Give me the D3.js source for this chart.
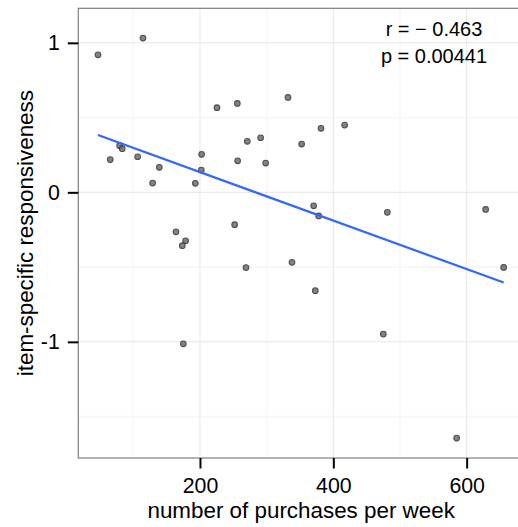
<!DOCTYPE html>
<html>
<head>
<meta charset="utf-8">
<script src="https://cdn.jsdelivr.net/npm/d3@7"></script>
<style>
  html, body { margin: 0; padding: 0; background: #fff; }
  svg { display: block; font-family: "Liberation Sans", Arial, Helvetica, sans-serif; }
</style>
</head>
<body>
<svg id="chart" width="518" height="527"></svg>
<script>
// Weekly purchase volume per item and its item-specific responsiveness
const purchases = [47.0, 114.5, 225.5, 79.5, 83.4, 65.4, 106.5, 139.0, 129.0, 202.5,
  202.0, 193.0, 256.0, 332.0, 271.0, 291.0, 256.5, 298.5, 352.5, 381.5,
  417.0, 370.5, 378.0, 164.0, 178.5, 173.5, 252.0, 269.0, 338.0, 175.0,
  481.0, 373.0, 628.5, 655.5, 475.0, 585.0];
const responsiveness = [0.920, 1.032, 0.566, 0.312, 0.292, 0.219, 0.238, 0.167, 0.062, 0.254,
  0.149, 0.060, 0.595, 0.635, 0.341, 0.365, 0.211, 0.196, 0.323, 0.428,
  0.450, -0.090, -0.158, -0.264, -0.324, -0.357, -0.216, -0.503, -0.468, -1.013,
  -0.134, -0.658, -0.114, -0.502, -0.948, -1.644];

const xMajor = [200, 400, 600];
const xMinor = [100, 300, 500];
const yMajor = [-1, 0, 1];
const yMinor = [-1.5, -0.5, 0.5];
const statLines = ["r = \u2212 0.463", "p = 0.00441"];

const svg = d3.select("#chart");
const panel = { left: 78.3, top: 8.3, right: 524, bottom: 458 };

const x = d3.scaleLinear().domain([17.5, 686]).range([panel.left, panel.right]);
const y = d3.scaleLinear().domain([-1.777, 1.231]).range([panel.bottom, panel.top]);

// panel background
svg.append("rect")
  .attr("x", panel.left).attr("y", panel.top)
  .attr("width", panel.right - panel.left).attr("height", panel.bottom - panel.top)
  .attr("fill", "#fff");

// minor grid
const grid = svg.append("g");
grid.selectAll(".vmin").data(xMinor).join("line")
  .attr("x1", d => x(d)).attr("x2", d => x(d))
  .attr("y1", panel.top).attr("y2", panel.bottom)
  .attr("stroke", "#f7f7f7").attr("stroke-width", 1.6);
grid.selectAll(".hmin").data(yMinor).join("line")
  .attr("y1", d => y(d)).attr("y2", d => y(d))
  .attr("x1", panel.left).attr("x2", panel.right)
  .attr("stroke", "#f7f7f7").attr("stroke-width", 1.6);
// major grid
grid.selectAll(".vmaj").data(xMajor).join("line")
  .attr("x1", d => x(d)).attr("x2", d => x(d))
  .attr("y1", panel.top).attr("y2", panel.bottom)
  .attr("stroke", "#e6e6e6").attr("stroke-width", 1);
grid.selectAll(".hmaj").data(yMajor).join("line")
  .attr("y1", d => y(d)).attr("y2", d => y(d))
  .attr("x1", panel.left).attr("x2", panel.right)
  .attr("stroke", "#e6e6e6").attr("stroke-width", 1);

// least-squares fit line over the observed range
const mx = d3.mean(purchases), my = d3.mean(responsiveness);
let sxy = 0, sxx = 0;
purchases.forEach((v, i) => { sxy += (v - mx) * (responsiveness[i] - my); sxx += (v - mx) ** 2; });
const slope = sxy / sxx, intercept = my - slope * mx;
const [xmin, xmax] = d3.extent(purchases);

// points
svg.append("g").selectAll("circle")
  .data(purchases.map((v, i) => [v, responsiveness[i]]))
  .join("circle")
  .attr("cx", d => x(d[0])).attr("cy", d => y(d[1]))
  .attr("r", 2.8)
  .attr("fill", "#6e6e6e")
  .attr("stroke", "#333")
  .attr("stroke-width", 1.1)
  .attr("opacity", 0.85);

svg.append("line")
  .attr("x1", x(xmin)).attr("y1", y(intercept + slope * xmin))
  .attr("x2", x(xmax)).attr("y2", y(intercept + slope * xmax))
  .attr("stroke", "#3366ff").attr("stroke-width", 2.2);

// panel border
svg.append("rect")
  .attr("x", panel.left).attr("y", panel.top)
  .attr("width", panel.right - panel.left).attr("height", panel.bottom - panel.top)
  .attr("fill", "none").attr("stroke", "#7f7f7f").attr("stroke-width", 1.2);

// axes
const xAxis = d3.axisBottom(x).tickValues(xMajor).tickSize(10.5).tickPadding(4).tickFormat(d3.format("d"));
const yAxis = d3.axisLeft(y).tickValues(yMajor).tickSize(10.5).tickPadding(8).tickFormat(d => d < 0 ? "-" + Math.abs(d) : d);

const gx = svg.append("g").attr("transform", `translate(0,${panel.bottom})`).call(xAxis);
const gy = svg.append("g").attr("transform", `translate(${panel.left},0)`).call(yAxis);
[gx, gy].forEach(g => {
  g.select(".domain").remove();
  g.selectAll(".tick line").attr("stroke", "#000").attr("stroke-width", 2);
  g.selectAll(".tick text").attr("fill", "#000").attr("font-size", 21.3)
    .attr("font-family", "'Liberation Sans', Arial, sans-serif");
});
gx.selectAll(".tick text").attr("dy", null).attr("y", 35);

// axis titles
svg.append("text")
  .attr("x", (panel.left + panel.right) / 2).attr("y", 518)
  .attr("text-anchor", "middle").attr("font-size", 22.4).attr("fill", "#000")
  .text("number of purchases per week");
svg.append("text")
  .attr("transform", `translate(33.3,${(panel.top + panel.bottom) / 2}) rotate(-90)`)
  .attr("text-anchor", "middle").attr("font-size", 22.4).attr("fill", "#000")
  .text("item-specific responsiveness");

// correlation annotation
svg.append("g").selectAll("text").data(statLines).join("text")
  .attr("x", 434).attr("y", (d, i) => 36 + i * 27.3)
  .attr("text-anchor", "middle").attr("font-size", 20).attr("fill", "#000")
  .attr("xml:space", "preserve")
  .text(d => d);
</script>
</body>
</html>
